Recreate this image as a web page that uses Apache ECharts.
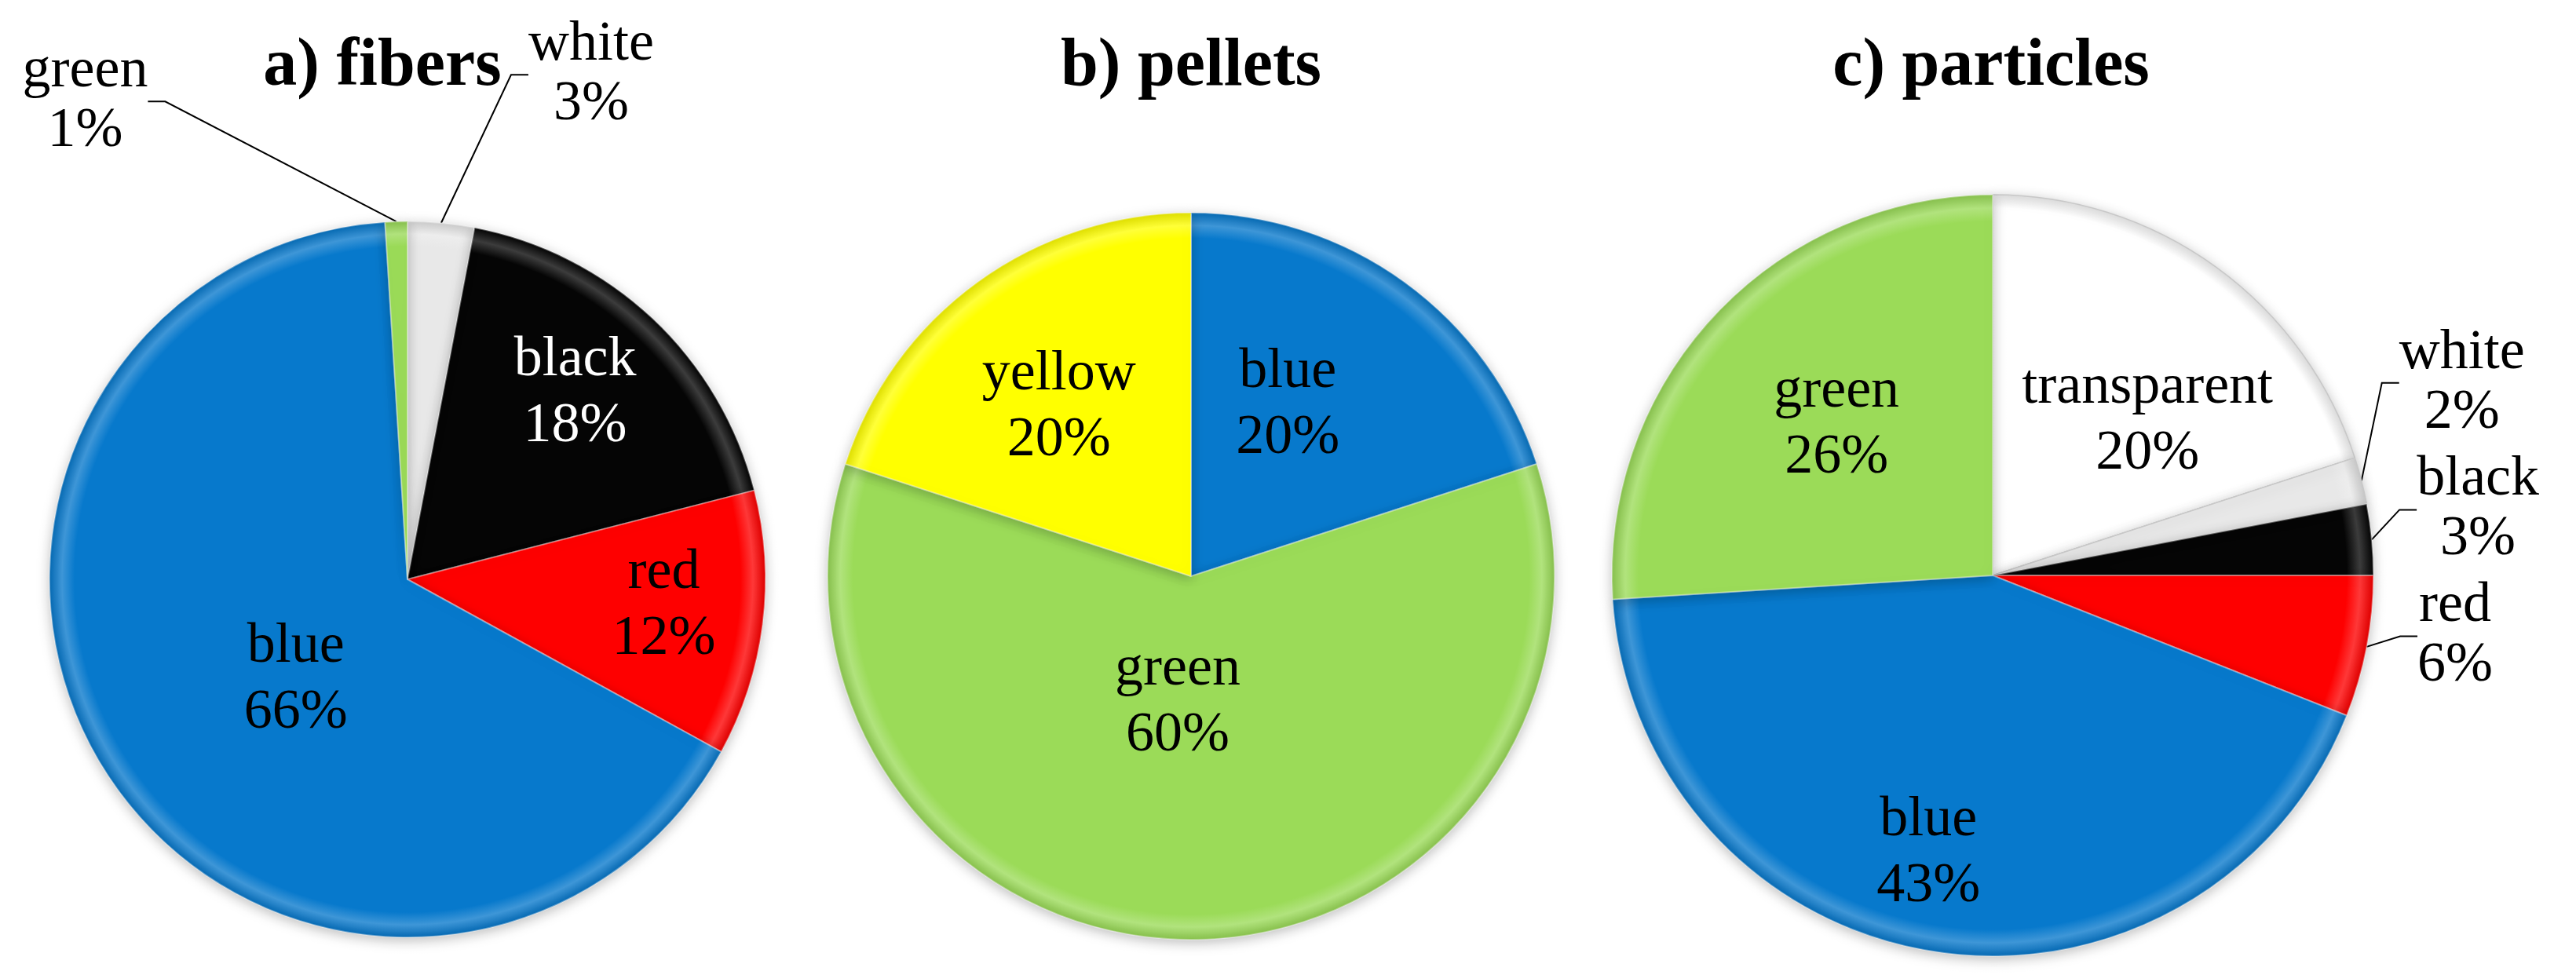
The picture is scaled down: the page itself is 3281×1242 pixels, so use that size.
<!DOCTYPE html>
<html>
<head>
<meta charset="utf-8">
<title>Microplastics by colour</title>
<script src="https://cdn.jsdelivr.net/npm/echarts@6/dist/echarts.min.js"></script>
<style>
  html, body { margin: 0; padding: 0; background: #fff; }
  #chart { width: 3281px; height: 1242px; }
</style>
</head>
<body>
<div id="chart"></div>
<script>
// data (clockwise from 12 o'clock)
const titles = ['a) fibers', 'b) pellets', 'c) particles'];
const fiberNames = ['white', 'black', 'red', 'blue', 'green'];
const fiberValues = [3, 18, 12, 66, 1];
const pelletNames = ['blue', 'green', 'yellow'];
const pelletValues = [20, 60, 20];
const particleNames = ['transparent', 'white', 'black', 'red', 'blue', 'green'];
const particleValues = [20, 2, 3, 6, 43, 26];

// colours per colour name
const sliceColor = {
  blue: '#0779CC',
  green: '#9BDB58',
  yellow: '#FFFF00',
  red: '#FE0000',
  black: '#050505',
  white: '#E8E8E8',
  transparent: '#FFFFFF'
};

// layout: pie centre / radius (px), title x, label placement [angle from top in deg, radius factor]
const pies = [
  { center: [519, 738], radius: 456, titleX: 482,
    labelPos: [[20, 1.5], [42, 0.7], [96, 0.72], [228, 0.42], [326, 1.61]],
    outside: ['white', 'green'] },
  { center: [1517, 734], radius: 463, titleX: 1512,
    labelPos: [[29.5, 0.54], [186, 0.35], [322, 0.59]],
    outside: [] },
  { center: [2538, 733], radius: 485, titleX: 2531,
    labelPos: [[45, 0.575], [67.7, 1.332], [82.3, 1.286], [97.5, 1.225], [193, 0.75], [314, 0.57]],
    outside: ['white', 'black', 'red'] }
];

const FONT = 'Liberation Serif';

const chart = echarts.init(document.getElementById('chart'));

// mix a hex colour with white (t > 0) or black (t < 0)
function tint(hex, t) {
  const n = parseInt(hex.slice(1), 16);
  const c = [n >> 16, (n >> 8) & 255, n & 255].map(v => {
    const target = t > 0 ? 255 : 0;
    return Math.round(v + (target - v) * Math.abs(t));
  });
  return 'rgb(' + c.join(',') + ')';
}

// soft rim like the bevelled slices of the original
function bevel(base, pie) {
  return {
    type: 'radial',
    x: pie.center[0],
    y: pie.center[1],
    r: pie.radius,
    global: true,
    colorStops: [
      { offset: 0, color: base },
      { offset: 0.93, color: base },
      { offset: 0.965, color: tint(base, 0.22) },
      { offset: 1, color: tint(base, -0.12) }
    ]
  };
}

function placeLabels(pie) {
  return function (params) {
    const p = pie.labelPos[params.dataIndex];
    const a = p[0] * Math.PI / 180;
    return {
      x: pie.center[0] + Math.sin(a) * p[1] * pie.radius,
      y: pie.center[1] - Math.cos(a) * p[1] * pie.radius,
      align: 'center',
      verticalAlign: 'middle'
    };
  };
}

function buildSeries(pie, names, values, idx) {
  const data = names.map((name, i) => {
    const isOut = pie.outside.indexOf(name) >= 0;
    const pale = name === 'transparent' || (name === 'white' && idx === 2);
    return {
      name: name,
      value: values[i],
      itemStyle: {
        color: bevel(sliceColor[name], pie),
        borderColor: pale ? '#C8C8C8' : 'rgba(255,255,255,0.35)',
        borderWidth: pale ? 1.5 : 2
      },
      label: {
        position: isOut ? 'outside' : 'inside',
        lineHeight: isOut ? 76 : 84,
        color: (name === 'black' && !isOut) ? '#FFFFFF' : '#000000'
      },
      labelLine: { show: isOut }
    };
  });
  return {
    type: 'pie',
    center: pie.center,
    radius: pie.radius,
    startAngle: 90,
    clockwise: true,
    avoidLabelOverlap: false,
    itemStyle: {
      shadowBlur: 16,
      shadowColor: 'rgba(0,0,0,0.25)',
      shadowOffsetY: 4
    },
    label: {
      show: true,
      formatter: '{b}\n{c}%',
      fontFamily: FONT,
      fontSize: 72
    },
    labelLine: {
      length: 20,
      length2: 22,
      lineStyle: { color: '#000000', width: 2 }
    },
    labelLayout: placeLabels(pie),
    emphasis: { disabled: true },
    data: data
  };
}

const option = {
  backgroundColor: '#FFFFFF',
  animation: false,
  title: titles.map((t, i) => ({
    text: t,
    left: pies[i].titleX,
    top: 38,
    textAlign: 'center',
    textStyle: {
      fontFamily: FONT,
      fontWeight: 'bold',
      fontSize: 86,
      color: '#000000'
    }
  })),
  series: [
    buildSeries(pies[0], fiberNames, fiberValues, 0),
    buildSeries(pies[1], pelletNames, pelletValues, 1),
    buildSeries(pies[2], particleNames, particleValues, 2)
  ]
};

chart.setOption(option);
</script>
</body>
</html>
